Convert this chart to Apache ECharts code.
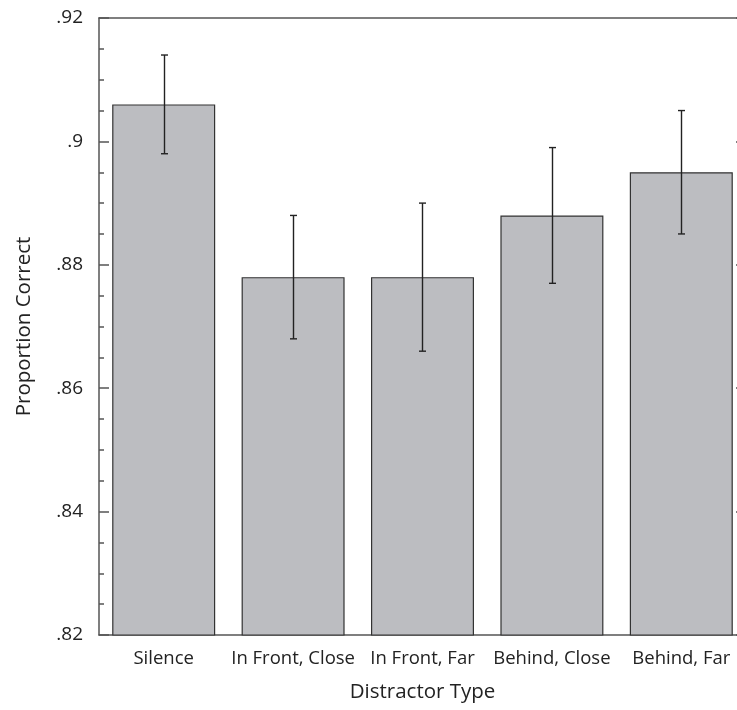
<!DOCTYPE html>
<html>
<head>
<meta charset="utf-8">
<script src="https://cdn.jsdelivr.net/npm/echarts@6/dist/echarts.min.js"></script>
<style>
html, body { margin:0; padding:0; background:#fff; }
#chart { width:737px; height:710px; }
</style>
</head>
<body>
<div id="chart"></div>
<script>
// distractor conditions
var categories = ['Silence', 'In Front, Close', 'In Front, Far', 'Behind, Close', 'Behind, Far'];
var means = [0.906, 0.878, 0.878, 0.888, 0.895];
var errLow = [0.898, 0.868, 0.866, 0.877, 0.885];
var errHigh = [0.914, 0.888, 0.890, 0.899, 0.905];

var fontFam = '"Open Sans", "Noto Sans", sans-serif';
var axisCol = '#555';

function fmt(v) {
  return String(+v.toFixed(2)).replace(/^0/, '');
}

var chart = echarts.init(document.getElementById('chart'));

var option = {
  animation: false,
  grid: { left: 99, top: 18, right: -9, bottom: 75, outerBoundsMode: 'none', containLabel: false },
  xAxis: [{
    type: 'category',
    data: categories,
    name: 'Distractor Type',
    nameLocation: 'middle',
    nameGap: 47,
    nameTextStyle: { fontFamily: fontFam, fontSize: 20.5, color: '#222' },
    axisLine: { lineStyle: { color: axisCol, width: 1.5 } },
    axisTick: { show: false },
    axisLabel: { fontFamily: fontFam, fontSize: 18.5, color: '#222', margin: 14, interval: 0 }
  }, {
    type: 'category',
    data: categories,
    position: 'top',
    axisLine: { lineStyle: { color: axisCol, width: 1.5 } },
    axisTick: { show: false },
    axisLabel: { show: false }
  }],
  yAxis: [{
    type: 'value',
    min: 0.82,
    max: 0.92,
    interval: 0.02,
    name: 'Proportion Correct',
    nameLocation: 'middle',
    nameGap: 64,
    nameTextStyle: { fontFamily: fontFam, fontSize: 20.5, color: '#222' },
    axisLine: { show: true, lineStyle: { color: axisCol, width: 1.5 } },
    axisTick: { show: true, inside: true, length: 10, lineStyle: { color: axisCol, width: 1.5 } },
    minorTick: { show: true, splitNumber: 4, length: 5, lineStyle: { color: axisCol, width: 1.5 } },
    splitLine: { show: false },
    axisLabel: { fontFamily: fontFam, fontSize: 19, color: '#222', margin: 16, formatter: fmt }
  }, {
    type: 'value',
    position: 'right',
    min: 0.82,
    max: 0.92,
    interval: 0.02,
    axisLine: { show: true, lineStyle: { color: axisCol, width: 1.5 } },
    axisTick: { show: true, inside: true, length: 10, lineStyle: { color: axisCol, width: 1.5 } },
    splitLine: { show: false },
    axisLabel: { show: false }
  }],
  series: [{
    type: 'bar',
    data: means,
    barWidth: 103,
    itemStyle: { color: '#bcbdc1', borderColor: '#333', borderWidth: 1.2 }
  }, {
    type: 'custom',
    data: categories.map(function (c, i) { return [i, errLow[i], errHigh[i]]; }),
    renderItem: function (params, api) {
      var lo = api.coord([api.value(0), api.value(1)]);
      var hi = api.coord([api.value(0), api.value(2)]);
      var x = Math.round(lo[0]) + 0.5;
      var half = 3.5;
      var st = { stroke: '#222', lineWidth: 1.4 };
      return {
        type: 'group',
        children: [
          { type: 'line', shape: { x1: x, y1: lo[1], x2: x, y2: hi[1] }, style: st },
          { type: 'line', shape: { x1: x - half, y1: lo[1], x2: x + half, y2: lo[1] }, style: st },
          { type: 'line', shape: { x1: x - half, y1: hi[1], x2: x + half, y2: hi[1] }, style: st }
        ]
      };
    },
    z: 5
  }]
};

chart.setOption(option);
</script>
</body>
</html>
